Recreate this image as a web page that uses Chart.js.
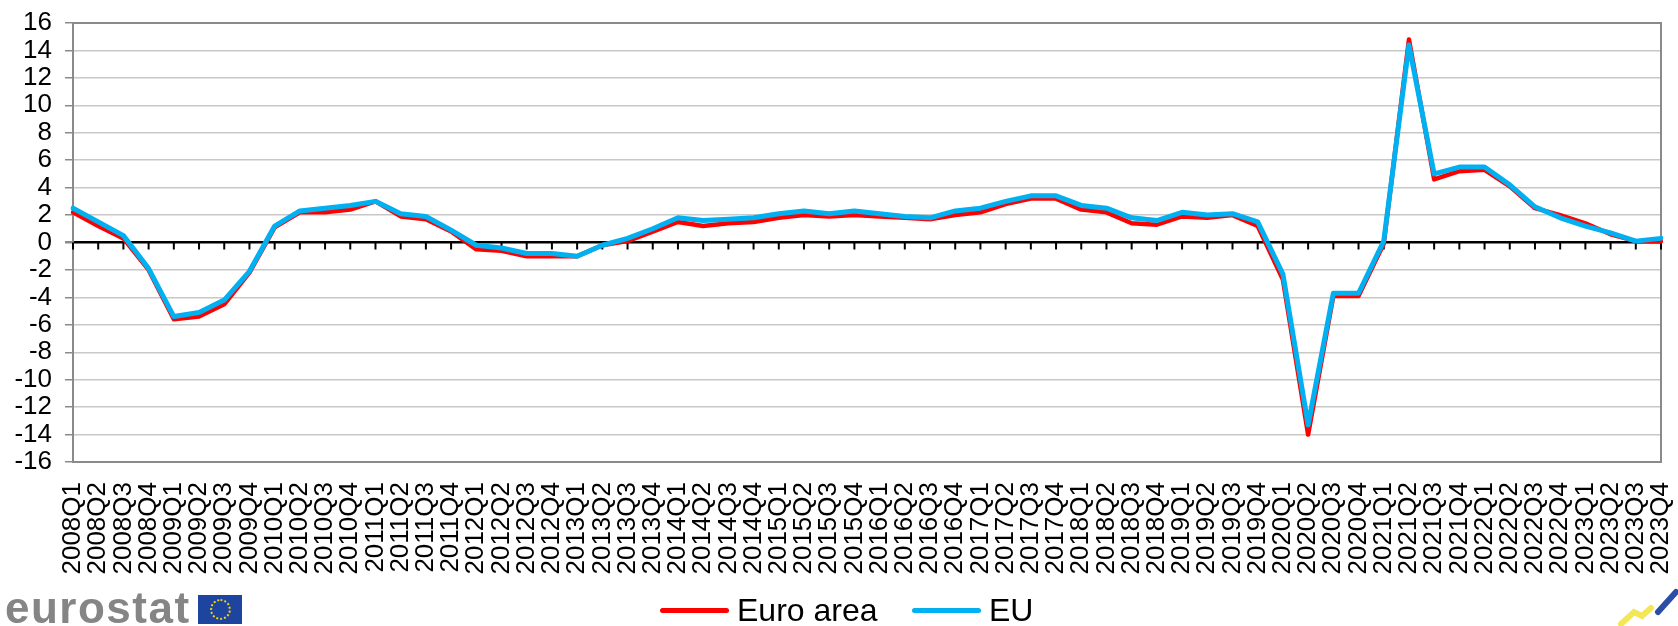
<!DOCTYPE html>
<html>
<head>
<meta charset="utf-8">
<script src="https://cdn.jsdelivr.net/npm/chart.js@4.4.1/dist/chart.umd.min.js"></script>
<style>
    body { margin: 0; background: #fff; font-family: "Liberation Sans", Arial, sans-serif; }
    #wrap { position: relative; width: 1678px; height: 626px; overflow: hidden; }
    #myChart { position: absolute; left: 0; top: 0; }
    .item { position: absolute; top: 594px; height: 32px; display: flex; align-items: center; font-size: 32px; line-height: 32px; color: #000; }
    .swatch { display: inline-block; width: 69px; height: 5px; border-radius: 3px; margin-right: 8px; }
    #logo { position: absolute; left: 5px; top: 586px; font-size: 44px; line-height: 44px; font-weight: bold; color: #858585; letter-spacing: 1.5px; }
    #flag { position: absolute; left: 198px; top: 595px; width: 44px; height: 29px; background: #1d449e; }
    #flag div { position: absolute; left: 12px; top: 4px; width: 17px; height: 17px; border: 2px dotted #f4d20a; border-radius: 50%; }
    #icon { position: absolute; left: 1618px; top: 586px; }
</style>
</head>
<body>
<div id="wrap">
    <canvas id="myChart" width="1678" height="626"></canvas>
    <div id="legend"></div>
    <div id="logo">eurostat</div>
    <div id="flag"><div></div></div>
    <svg id="icon" width="60" height="40" viewBox="0 0 60 40">
        <path d="M3 38 L16 26 L24 30 L33 22" stroke="#f2e33a" stroke-width="6" fill="none" stroke-linecap="round" opacity="0.85"/>
        <path d="M40 26 L58 6" stroke="#2a4ea6" stroke-width="6" fill="none" stroke-linecap="round"/>
    </svg>
</div>
<script>
// quarters 2008Q1 - 2023Q4
let quarters = [
    "2008Q1", "2008Q2", "2008Q3", "2008Q4", "2009Q1", "2009Q2", "2009Q3", "2009Q4",
    "2010Q1", "2010Q2", "2010Q3", "2010Q4", "2011Q1", "2011Q2", "2011Q3", "2011Q4",
    "2012Q1", "2012Q2", "2012Q3", "2012Q4", "2013Q1", "2013Q2", "2013Q3", "2013Q4",
    "2014Q1", "2014Q2", "2014Q3", "2014Q4", "2015Q1", "2015Q2", "2015Q3", "2015Q4",
    "2016Q1", "2016Q2", "2016Q3", "2016Q4", "2017Q1", "2017Q2", "2017Q3", "2017Q4",
    "2018Q1", "2018Q2", "2018Q3", "2018Q4", "2019Q1", "2019Q2", "2019Q3", "2019Q4",
    "2020Q1", "2020Q2", "2020Q3", "2020Q4", "2021Q1", "2021Q2", "2021Q3", "2021Q4",
    "2022Q1", "2022Q2", "2022Q3", "2022Q4", "2023Q1", "2023Q2", "2023Q3", "2023Q4"
]

let euroArea = [
    2.2, 1.2, 0.3, -2.0, -5.6, -5.4, -4.5, -2.2,
    1.1, 2.2, 2.2, 2.4, 3.0, 1.9, 1.7, 0.8,
    -0.5, -0.6, -1.0, -1.0, -1.0, -0.2, 0.1, 0.8,
    1.5, 1.2, 1.4, 1.5, 1.8, 2.0, 1.9, 2.0,
    1.9, 1.8, 1.7, 2.0, 2.2, 2.8, 3.2, 3.2,
    2.4, 2.2, 1.4, 1.3, 1.9, 1.8, 2.0, 1.2,
    -2.7, -14.0, -3.9, -3.9, -0.1, 14.8, 4.6, 5.2,
    5.3, 4.1, 2.5, 2.0, 1.4, 0.6, 0.1, 0.1
]

let eu = [
    2.5, 1.5, 0.5, -1.9, -5.4, -5.1, -4.2, -2.1,
    1.2, 2.3, 2.5, 2.7, 3.0, 2.1, 1.9, 0.9,
    -0.2, -0.4, -0.8, -0.8, -1.0, -0.2, 0.3, 1.0,
    1.8, 1.6, 1.7, 1.8, 2.1, 2.3, 2.1, 2.3,
    2.1, 1.9, 1.8, 2.3, 2.5, 3.0, 3.4, 3.4,
    2.7, 2.5, 1.8, 1.6, 2.2, 2.0, 2.1, 1.5,
    -2.3, -13.3, -3.7, -3.7, 0.1, 14.4, 5.0, 5.5,
    5.5, 4.2, 2.6, 1.8, 1.2, 0.7, 0.1, 0.3
]

let seriesNames = ["Euro area", "EU"]
let seriesColors = ["#ff0000", "#00b0f0"]
let yMin = -16
let yMax = 16
let yStep = 2

// frame round the plot + small tick marks on the zero line
const frameAndTicks = {
    id: "frameAndTicks",
    beforeDatasetsDraw(chart) {
        let ctx = chart.ctx
        let a = chart.chartArea
        let x = chart.scales.x
        let y0 = chart.scales.y.getPixelForValue(0)
        ctx.save()
        ctx.strokeStyle = "#8a8a8a"
        ctx.lineWidth = 2
        ctx.strokeRect(a.left, a.top, a.right - a.left, a.bottom - a.top)
        ctx.strokeStyle = "#000"
        ctx.lineWidth = 2
        ctx.beginPath()
        for (let i = 0; i < quarters.length; i++) {
            let px = x.getPixelForValue(i)
            ctx.moveTo(px, y0)
            ctx.lineTo(px, y0 + 7)
        }
        ctx.stroke()
        ctx.restore()
    }
}

let chart = new Chart(document.getElementById("myChart").getContext("2d"), {
    type: "line",
    data: {
        labels: quarters,
        datasets: [
            {
                label: seriesNames[0],
                data: euroArea,
                borderColor: seriesColors[0],
                borderWidth: 4.5,
                order: 1
            },
            {
                label: seriesNames[1],
                data: eu,
                borderColor: seriesColors[1],
                borderWidth: 5,
                order: 0
            }
        ]
    },
    options: {
        responsive: false,
        animation: false,
        devicePixelRatio: 1,
        layout: { padding: { left: 0, right: 17, top: 23, bottom: 0 } },
        elements: {
            point: { radius: 0 },
            line: { tension: 0, borderJoinStyle: "round", borderCapStyle: "round" }
        },
        plugins: {
            legend: { display: false },
            tooltip: { enabled: false }
        },
        scales: {
            x: {
                offset: false,
                grid: { display: false, drawTicks: false },
                border: { display: false },
                ticks: {
                    autoSkip: false,
                    minRotation: 90,
                    maxRotation: 90,
                    padding: 20,
                    color: "#000",
                    font: { family: "'Liberation Sans', Arial, sans-serif", size: 26, lineHeight: 1 }
                },
                afterFit(scale) {
                    scale.height = 164
                    scale.paddingLeft = 0
                    scale.paddingRight = 0
                }
            },
            y: {
                min: yMin,
                max: yMax,
                ticks: {
                    stepSize: yStep,
                    autoSkip: false,
                    padding: 13,
                    color: "#000",
                    font: { family: "'Liberation Sans', Arial, sans-serif", size: 26, lineHeight: 1 }
                },
                grid: {
                    color: (c) => c.tick && c.tick.value === 0 ? "#000" : "#c8c8c8",
                    lineWidth: (c) => c.tick && c.tick.value === 0 ? 2.5 : 1.5,
                    tickColor: "#8a8a8a",
                    tickLength: 8
                },
                border: { display: false },
                afterFit(scale) {
                    scale.width = 73
                    scale.paddingTop = 0
                    scale.paddingBottom = 0
                }
            }
        }
    },
    plugins: [frameAndTicks]
});

// legend below the chart
let legendLeft = [660, 912]
let legend = document.getElementById("legend")
for (let i = 0; i < seriesNames.length; i++) {
    legend.innerHTML += '<div class="item" style="left:' + legendLeft[i] + 'px"><span class="swatch" style="background:' +
        seriesColors[i] + '"></span>' + seriesNames[i] + '</div>'
}
</script>
</body>
</html>
